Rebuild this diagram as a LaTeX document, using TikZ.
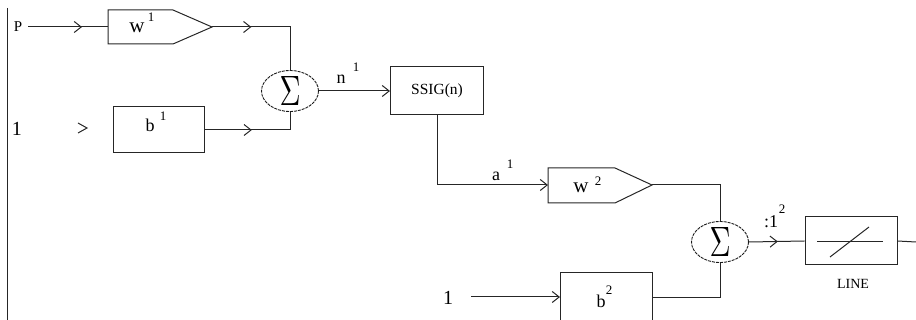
\documentclass[tikz,border=0pt]{standalone}
\usepackage{fontspec}
\setmainfont{Liberation Serif}
\usetikzlibrary{arrows.meta,decorations.markings,shapes.geometric}

\tikzset{
  chevtip/.tip={Straight Barb[length=7pt,width=11pt]},
  wire/.style={line width=1pt, draw=black!85},
  midchev/.style={postaction={decorate,decoration={markings,
      mark=at position #1 with {\arrow{chevtip}}}}},
  blockbox/.style={draw=black!85, line width=1pt, inner sep=0pt},
  sumnode/.style={ellipse, draw=black!90, dash pattern=on 3pt off 1pt,
      line width=0.9pt, inner sep=0pt, minimum width=57pt, minimum height=41pt},
  lbl/.style={inner sep=0pt, font=\fontsize{18}{18}\selectfont},
  wlbl/.style={inner sep=0pt, font=\fontsize{21}{21}\selectfont},
  digit/.style={inner sep=0pt, font=\fontsize{20}{20}\selectfont},
  supl/.style={inner sep=0pt, font=\fontsize{13}{13}\selectfont},
}

\begin{document}
\begin{tikzpicture}[x=1pt,y=-1pt]
\useasboundingbox (0,0) rectangle (916,320);

% input rail
\coordinate (railtop) at (7,8);
\coordinate (railbot) at (7,320);
\draw[wire] (railtop) -- (railbot);

% ---------- layer 1 ----------
\node[inner sep=0pt, font=\fontsize{15}{15}\selectfont] (p) at (18,27) {P};
\coordinate (pend) at (28,27);

% weight w1 (gain block)
\coordinate (w1in) at (108,27);
\coordinate (w1out) at (212,27);
\draw[wire] (108,10) -- (173,10) -- (w1out) -- (173,44) -- (108,44) -- cycle;
\node[wlbl] (w1t) at (137,28) {w};
\node[supl] (w1s) at (151,17) {1};
\draw[wire, midchev=0.675] (pend) -- (w1in);

% bias b1
\node[digit] (one1) at (17,129) {1};
\coordinate (bchA) at (78,123);
\coordinate (bchB) at (87,128);
\coordinate (bchC) at (78,133);
\draw[wire] (bchA) -- (bchB) -- (bchC);
\node[blockbox, minimum width=91pt, minimum height=46pt] (b1) at (158.5,130) {};
\node[lbl] (b1t) at (150,125) {b};
\node[supl] (b1s) at (163,116) {1};

% summing junction 1
\node[sumnode] (s1) at (290,91) {\resizebox{21pt}{29pt}{$\Sigma$}};
\draw[wire, midchev=0.325] (w1out) -| (s1.north);
\draw[wire, midchev=0.457] (b1.east) -| (s1.south);

% transfer function
\node[lbl] (n1t) at (341,79) {n};
\node[supl] (n1s) at (356,67) {1};
\node[blockbox, minimum width=93pt, minimum height=48pt,
      font=\fontsize{15.5}{15.5}\selectfont] (ssig) at (437,91) {SSIG(n)};
\draw[wire, -chevtip] (s1.east) -- (ssig.west);

% ---------- layer 2 ----------
\coordinate (w2in) at (548,185);
\coordinate (w2out) at (652,185);
\draw[wire] (548,168) -- (615,168) -- (w2out) -- (615,203) -- (548,203) -- cycle;
\node[wlbl] (w2t) at (581,188) {w};
\node[supl] (w2s) at (598,181) {2};
\node[lbl] (a1t) at (496,176) {a};
\node[supl] (a1s) at (510,164) {1};
\draw[wire, -chevtip] (ssig.south) |- (w2in);

% bias b2
\node[digit] (one2) at (448,298) {1};
\coordinate (one2end) at (471,297);
\node[blockbox, minimum width=92pt, minimum height=70pt] (b2) at (606,308) {};
\coordinate (b2in) at (560,297);
\coordinate (b2out) at (652,298);
\node[lbl] (b2t) at (601,301) {b};
\node[supl] (b2s) at (609,290) {2};
\draw[wire, -chevtip] (one2end) -- (b2in);

% summing junction 2
\node[sumnode] (s2) at (720,242) {\resizebox{21pt}{29pt}{$\Sigma$}};
\draw[wire] (w2out) -| (s2.north);
\draw[wire] (b2out) -| (s2.south);

% linear transfer block
\node[blockbox, minimum width=92pt, minimum height=48pt] (lin) at (851,241) {};
\coordinate (linA) at (817,242);
\coordinate (linB) at (883,242);
\coordinate (linC) at (830,257);
\coordinate (linD) at (869,227);
\draw[wire] (linA) -- (linB);
\draw[wire] (linC) -- (linD);
\node[inner sep=0pt, font=\fontsize{14}{14}\selectfont] (lint) at (853,284) {LINE};
\node[lbl] (n2t) at (771,222) {:1};
\node[supl] (n2s) at (782,209) {2};
\draw[wire, midchev=0.52] (s2.east) -- (lin.west);
\coordinate (outend) at (916,242);
\draw[wire] (lin.east) -- (outend);
\end{tikzpicture}
\end{document}
